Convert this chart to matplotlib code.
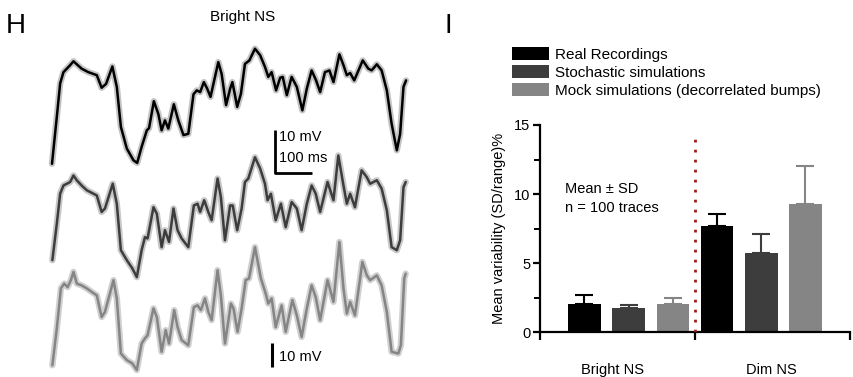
import numpy as np
import matplotlib
matplotlib.use('Agg')
import matplotlib.pyplot as plt
from matplotlib.patches import Patch

plt.rcParams['font.family'] = ['Liberation Sans', 'DejaVu Sans']

# ---- panel H: averaged voltage traces (time in ms, voltage in mV) ----
t_real = [0, 13, 22, 31, 40, 49, 58, 67, 80, 98, 121, 134, 146, 163, 175, 186, 202, 220, 230,
          242, 256, 262, 275, 287, 296, 305, 314, 329, 341, 355, 368, 382, 391, 400, 410, 419,
          428, 449, 458, 470, 481, 487, 494, 500, 510, 521, 533, 548, 562, 575, 584, 593, 605,
          616, 623, 634, 647, 661, 676, 688, 701, 713, 724, 737, 749, 760, 776, 787, 796, 805,
          816, 839, 854, 863, 877, 890, 904, 917, 931, 940, 949, 956]
v_real = [1.5, 12.3, 20.0, 22.6, 23.4, 24.2, 25.1, 24.4, 23.4, 22.6, 21.9, 19.0, 19.9, 23.9, 19.2,
          10.0, 5.0, 2.3, 1.7, 5.4, 9.2, 9.7, 15.9, 13.0, 9.2, 11.5, 9.6, 15.2, 11.5, 8.1, 8.4,
          17.5, 18.4, 18.0, 20.3, 18.8, 16.9, 24.9, 22.2, 15.0, 18.8, 20.3, 17.3, 14.6, 17.6,
          24.5, 25.3, 28.0, 26.5, 23.8, 21.5, 22.6, 18.4, 21.3, 21.5, 17.3, 21.5, 19.2, 13.8,
          18.8, 23.0, 20.7, 18.0, 22.6, 23.0, 20.3, 26.7, 24.2, 21.9, 22.4, 20.7, 25.3, 23.4,
          23.0, 24.4, 23.0, 18.4, 10.7, 4.6, 8.4, 19.2, 20.7]

t_stoch = [1, 13, 22, 31, 40, 49, 58, 67, 80, 94, 112, 121, 134, 143, 164, 175, 186, 202, 217,
           229, 242, 251, 258, 274, 283, 296, 305, 316, 328, 339, 350, 368, 383, 393, 400, 411,
           422, 431, 447, 456, 467, 481, 488, 500, 512, 521, 530, 548, 562, 575, 582, 591, 604,
           618, 631, 647, 661, 674, 688, 701, 712, 724, 744, 760, 773, 787, 796, 805, 818, 836,
           850, 859, 877, 890, 904, 917, 931, 940, 949, 955]
v_stoch = [5.3, 13.7, 20.6, 22.5, 22.9, 23.3, 24.8, 23.7, 22.5, 21.4, 20.6, 20.2, 16.4, 17.2,
           22.9, 18.3, 7.6, 5.3, 3.4, 1.4, 7.6, 10.6, 10.3, 17.5, 16.0, 8.3, 12.2, 9.5, 17.2,
           12.2, 10.3, 8.3, 17.9, 18.3, 16.4, 19.1, 16.4, 14.5, 24.1, 19.8, 9.9, 17.9, 17.9,
           12.2, 17.2, 23.3, 24.1, 29.0, 26.4, 22.9, 19.1, 20.6, 14.5, 18.3, 12.9, 18.7, 17.2,
           12.2, 18.3, 22.5, 20.6, 16.4, 23.3, 19.1, 29.4, 22.5, 18.3, 20.6, 17.5, 26.0, 24.4,
           22.9, 23.7, 21.8, 16.8, 8.3, 7.6, 9.9, 22.1, 23.3]

t_mock = [1, 13, 24, 33, 42, 51, 58, 67, 80, 94, 107, 121, 134, 143, 166, 175, 186, 202, 217,
          229, 242, 251, 258, 274, 283, 296, 307, 316, 330, 339, 350, 368, 383, 393, 402, 413,
          422, 431, 447, 456, 467, 483, 490, 501, 512, 523, 532, 548, 564, 577, 584, 593, 604,
          620, 631, 649, 661, 674, 688, 701, 712, 724, 744, 760, 776, 787, 796, 805, 818, 838,
          850, 859, 877, 890, 904, 917, 935, 942, 951, 955]
v_mock = [3.2, 11.7, 20.9, 22.0, 21.2, 22.8, 24.7, 22.0, 21.6, 20.9, 20.1, 19.3, 14.3, 15.5,
          22.8, 18.6, 5.9, 4.4, 3.6, 2.1, 8.2, 9.4, 10.1, 16.3, 14.3, 6.3, 11.3, 8.2, 15.9,
          12.0, 9.0, 7.8, 16.6, 17.0, 15.9, 18.6, 15.5, 13.6, 25.1, 19.3, 8.2, 17.4, 16.3,
          10.9, 16.3, 22.8, 23.2, 30.4, 23.2, 19.7, 17.4, 18.6, 12.0, 17.0, 10.9, 18.2, 14.7,
          9.7, 16.3, 21.6, 18.9, 13.6, 22.8, 17.8, 31.6, 20.9, 15.1, 17.8, 14.7, 27.0, 23.9,
          22.8, 23.9, 21.6, 15.5, 6.3, 5.9, 7.8, 23.2, 24.3]

trace_offsets = [0.0, -26.0, -48.1]   # vertical stacking, mV

# ---- panel I: variability bars ----
groups = ['Bright NS', 'Dim NS']
series = ['Real Recordings', 'Stochastic simulations', 'Mock simulations (decorrelated bumps)']
bright_mean = [2.05, 1.78, 2.05]
bright_sd = [0.65, 0.20, 0.40]
dim_mean = [7.70, 5.75, 9.30]
dim_sd = [0.85, 1.35, 2.70]

colors = ['#000000', '#3d3d3d', '#858585']
halo = ['#c4c4c4', '#c8c8c8', '#d0d0d0']

fig = plt.figure(figsize=(8.54, 3.77), dpi=100)

# ---------------- H ----------------
ax1 = fig.add_axes([40 / 854, 0.0, 375 / 854, 337 / 377])
ax1.set_xlim(-32.4, 980.1)
ax1.set_ylim(-47.6, 30.0)
ax1.axis('off')

traces = [(t_real, v_real), (t_stoch, v_stoch), (t_mock, v_mock)]
for i, (t, v) in enumerate(traces):
    y = np.array(v) + trace_offsets[i]
    ax1.plot(t, y, color=halo[i], lw=4.6, solid_capstyle='round', solid_joinstyle='round', zorder=1)
    ax1.plot(t, y, color=colors[i], lw=1.8, solid_capstyle='round', solid_joinstyle='round', zorder=2)

# scale bars
ax1.plot([602, 602, 702], [9.3, -0.7, -0.7], color='black', lw=2.0, solid_capstyle='butt')
ax1.text(613, 7.6, '10 mV', fontsize=10.5, va='center', ha='left')
ax1.text(613, 2.8, '100 ms', fontsize=10.5, va='center', ha='left')
ax1.plot([594, 594], [-39.8, -45.3], color='black', lw=2.2, solid_capstyle='butt')
ax1.text(613, -43.0, '10 mV', fontsize=10.5, va='center', ha='left')

fig.text(243 / 854, 1 - 17 / 377, 'Bright NS', fontsize=11, ha='center', va='center')
fig.text(6 / 854, 1 - 26 / 377, 'H', fontsize=20, ha='left', va='center')
fig.text(445 / 854, 1 - 26 / 377, 'I', fontsize=20, ha='left', va='center')

# ---------------- I ----------------
ax2 = fig.add_axes([540.3 / 854, (377 - 332.3) / 377, 309.4 / 854, 207.3 / 377])
means = bright_mean + dim_mean
sds = bright_sd + dim_sd
xpos = np.arange(len(means))
bar_cols = colors + colors
for x, m, s, c in zip(xpos, means, sds, bar_cols):
    ax2.bar(x, m, width=0.735, color=c, zorder=2)
    ax2.errorbar(x, m, yerr=[[0], [s]], color=c, lw=1.5, capsize=6.5, capthick=1.5, zorder=2)

ax2.axvline(2.5, ymin=0, ymax=14.4 / 15, color='#a01c1c', lw=2.0, linestyle=(0, (1, 2.6)), zorder=3)

ax2.set_xlim(-1.0, 6.0)
ax2.set_ylim(0, 15)
for side in ['top', 'right']:
    ax2.spines[side].set_visible(False)
for side in ['left', 'bottom']:
    ax2.spines[side].set_linewidth(1.6)

ax2.set_yticks([0, 5, 10, 15])
ax2.set_yticks([2.5, 7.5, 12.5], minor=True)
ax2.tick_params(axis='y', which='major', length=5, width=1.6, labelsize=10.5, pad=2)
ax2.tick_params(axis='y', which='minor', length=4, width=1.4)

ax2.set_xticks([0.63, 4.23])
ax2.set_xticklabels(groups)
ax2.set_xticks([-1.0, 2.5, 6.0], minor=True)
ax2.tick_params(axis='x', which='major', length=0, labelsize=10.5, pad=22)
ax2.tick_params(axis='x', which='minor', length=6, width=1.6)

ax2.set_ylabel('Mean variability (SD/range)%', fontsize=10.5, labelpad=6)

ax2.text(-0.43, 10.34, 'Mean \u00b1 SD', fontsize=10.5, va='center', ha='left')
ax2.text(-0.43, 8.96, 'n = 100 traces', fontsize=10.5, va='center', ha='left')

handles = [Patch(facecolor=c, edgecolor='none') for c in colors]
fig.legend(handles, series, loc='upper left', bbox_to_anchor=(509 / 854, 1 - 44 / 377),
           frameon=False, fontsize=11, handlelength=2.4, handleheight=0.95,
           labelspacing=0.2, handletextpad=0.4, borderpad=0.2, borderaxespad=0)

fig.savefig('out.png', dpi=100)
